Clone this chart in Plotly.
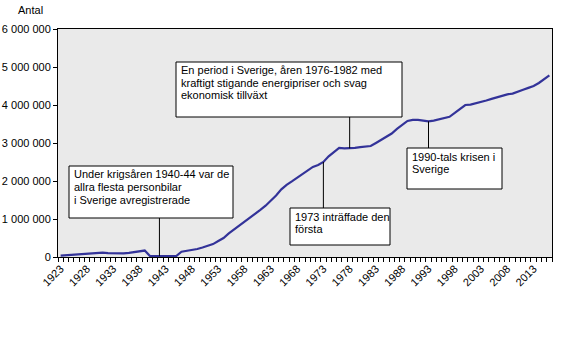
import plotly.graph_objects as go

years = list(range(1923, 2017))
cars = [
    35000, 45000, 60000, 75000, 85000, 90000, 100000, 105000, 115000, 100000,   # 1923-1932
    95000, 90000, 95000, 110000, 130000, 160000, 170000, 25000, 22000, 22000,    # 1933-1942
    22000, 22000, 25000, 140000, 160000, 178000, 210000, 250000, 290000, 340000,  # 1943-1952
    420000, 500000, 620000, 720000, 820000, 920000, 1030000, 1140000, 1240000, 1350000,  # 1953-1962
    1480000, 1620000, 1780000, 1900000, 1990000, 2080000, 2180000, 2280000, 2370000, 2420000,  # 1963-1972
    2500000, 2650000, 2760000, 2870000, 2860000, 2860000, 2870000, 2890000, 2900000, 2920000,  # 1973-1982
    3000000, 3080000, 3150000, 3250000, 3370000, 3480000, 3580000, 3610000, 3610000, 3590000,  # 1983-1992
    3570000, 3590000, 3630000, 3650000, 3690000, 3790000, 3890000, 4000000, 4010000, 4040000,  # 1993-2002
    4090000, 4120000, 4160000, 4200000, 4260000, 4280000, 4300000, 4340000, 4400000, 4450000,  # 2003-2012
    4500000, 4580000, 4670000, 4780000,  # 2013-2016
]
tick_years = list(range(1923, 2014, 5))
y_ticks = [0, 1000000, 2000000, 3000000, 4000000, 5000000, 6000000]

notes = [
    {"lines": ["Under krigsåren 1940-44 var de", "allra flesta personbilar", "i Sverige avregistrerade"],
     "year": 1941.8},
    {"lines": ["1973 inträffade den", "första"], "year": 1973},
    {"lines": ["En period i Sverige, åren 1976-1982 med", "kraftigt stigande energipriser och svag",
               "ekonomisk tillväxt"], "year": 1978},
    {"lines": ["1990-tals krisen i", "Sverige"], "year": 1993},
]

W, H = 567, 340
L, R, T, B = 58, 552, 29, 257


def px(x):
    return (x - L) / (R - L)


def py(y):
    return (B - y) / (B - T)


def ydata(y):
    return (B - y) / (B - T) * 6000000


def value_at(yr):
    lo = int(yr)
    i = years.index(lo)
    if lo == yr or i + 1 >= len(years):
        return cars[i]
    f = yr - lo
    return cars[i] * (1 - f) + cars[i + 1] * f


# box geometry (pixels): left, top, right, bottom, text left, line centres, connector edge
boxes = [
    (69, 166, 233, 218, 72, [174.5, 187.3, 200.3], "bottom"),
    (290, 208, 390, 245, 293, [216.7, 228.8], "top"),
    (176, 62, 402, 117, 179, [70, 82.7, 95.3], "bottom"),
    (407, 148, 502, 189, 410, [156.7, 168.8], "top"),
]

fig = go.Figure()
fig.add_trace(go.Scatter(x=years, y=cars, mode="lines",
                         line=dict(color="#333399", width=2.2), hoverinfo="x+y"))

shapes = []
annotations = []
for note, (l, t, r, b, tx, ys, edge) in zip(notes, boxes):
    yr = note["year"]
    edge_y = ydata(b) if edge == "bottom" else ydata(t)
    shapes.append(dict(type="line", xref="x", yref="y", x0=yr, x1=yr,
                       y0=edge_y, y1=value_at(yr), line=dict(color="black", width=1)))
    shapes.append(dict(type="rect", xref="paper", yref="paper",
                       x0=px(l), x1=px(r), y0=py(b), y1=py(t),
                       fillcolor="white", line=dict(color="black", width=1)))
    for text, yy in zip(note["lines"], ys):
        annotations.append(dict(text=text, xref="paper", yref="paper", x=px(tx), y=py(yy),
                                xanchor="left", yanchor="middle", showarrow=False,
                                font=dict(size=11, color="black")))

annotations.append(dict(text="Antal", xref="paper", yref="paper", x=px(30), y=py(10),
                        xanchor="center", yanchor="middle", showarrow=False,
                        font=dict(size=11, color="black")))

fig.update_layout(
    width=W, height=H,
    margin=dict(l=L, r=W - R, t=T, b=H - B),
    paper_bgcolor="white",
    plot_bgcolor="#eaeaea",
    separators=", ",
    font=dict(family="Liberation Sans, Arial, sans-serif", size=11, color="black"),
    showlegend=False,
    shapes=shapes,
    annotations=annotations,
    xaxis=dict(
        range=[1922.5, 2016.5], tickvals=tick_years, ticktext=[str(v) for v in tick_years],
        tickangle=-45, ticks="", showgrid=False, zeroline=False, automargin=False,
        showline=True, linecolor="black", linewidth=1, mirror=True,
        minor=dict(ticks="outside", tick0=1922.5, dtick=1, ticklen=4, tickcolor="black", showgrid=False),
        tickfont=dict(size=11),
    ),
    yaxis=dict(
        range=[0, 6000000], tickvals=y_ticks, tickformat=",d", automargin=False,
        ticks="outside", ticklen=4, tickcolor="black", showgrid=False, zeroline=False,
        showline=True, linecolor="black", linewidth=1, mirror=True,
        tickfont=dict(size=11),
    ),
)

fig.write_html("out.html")
